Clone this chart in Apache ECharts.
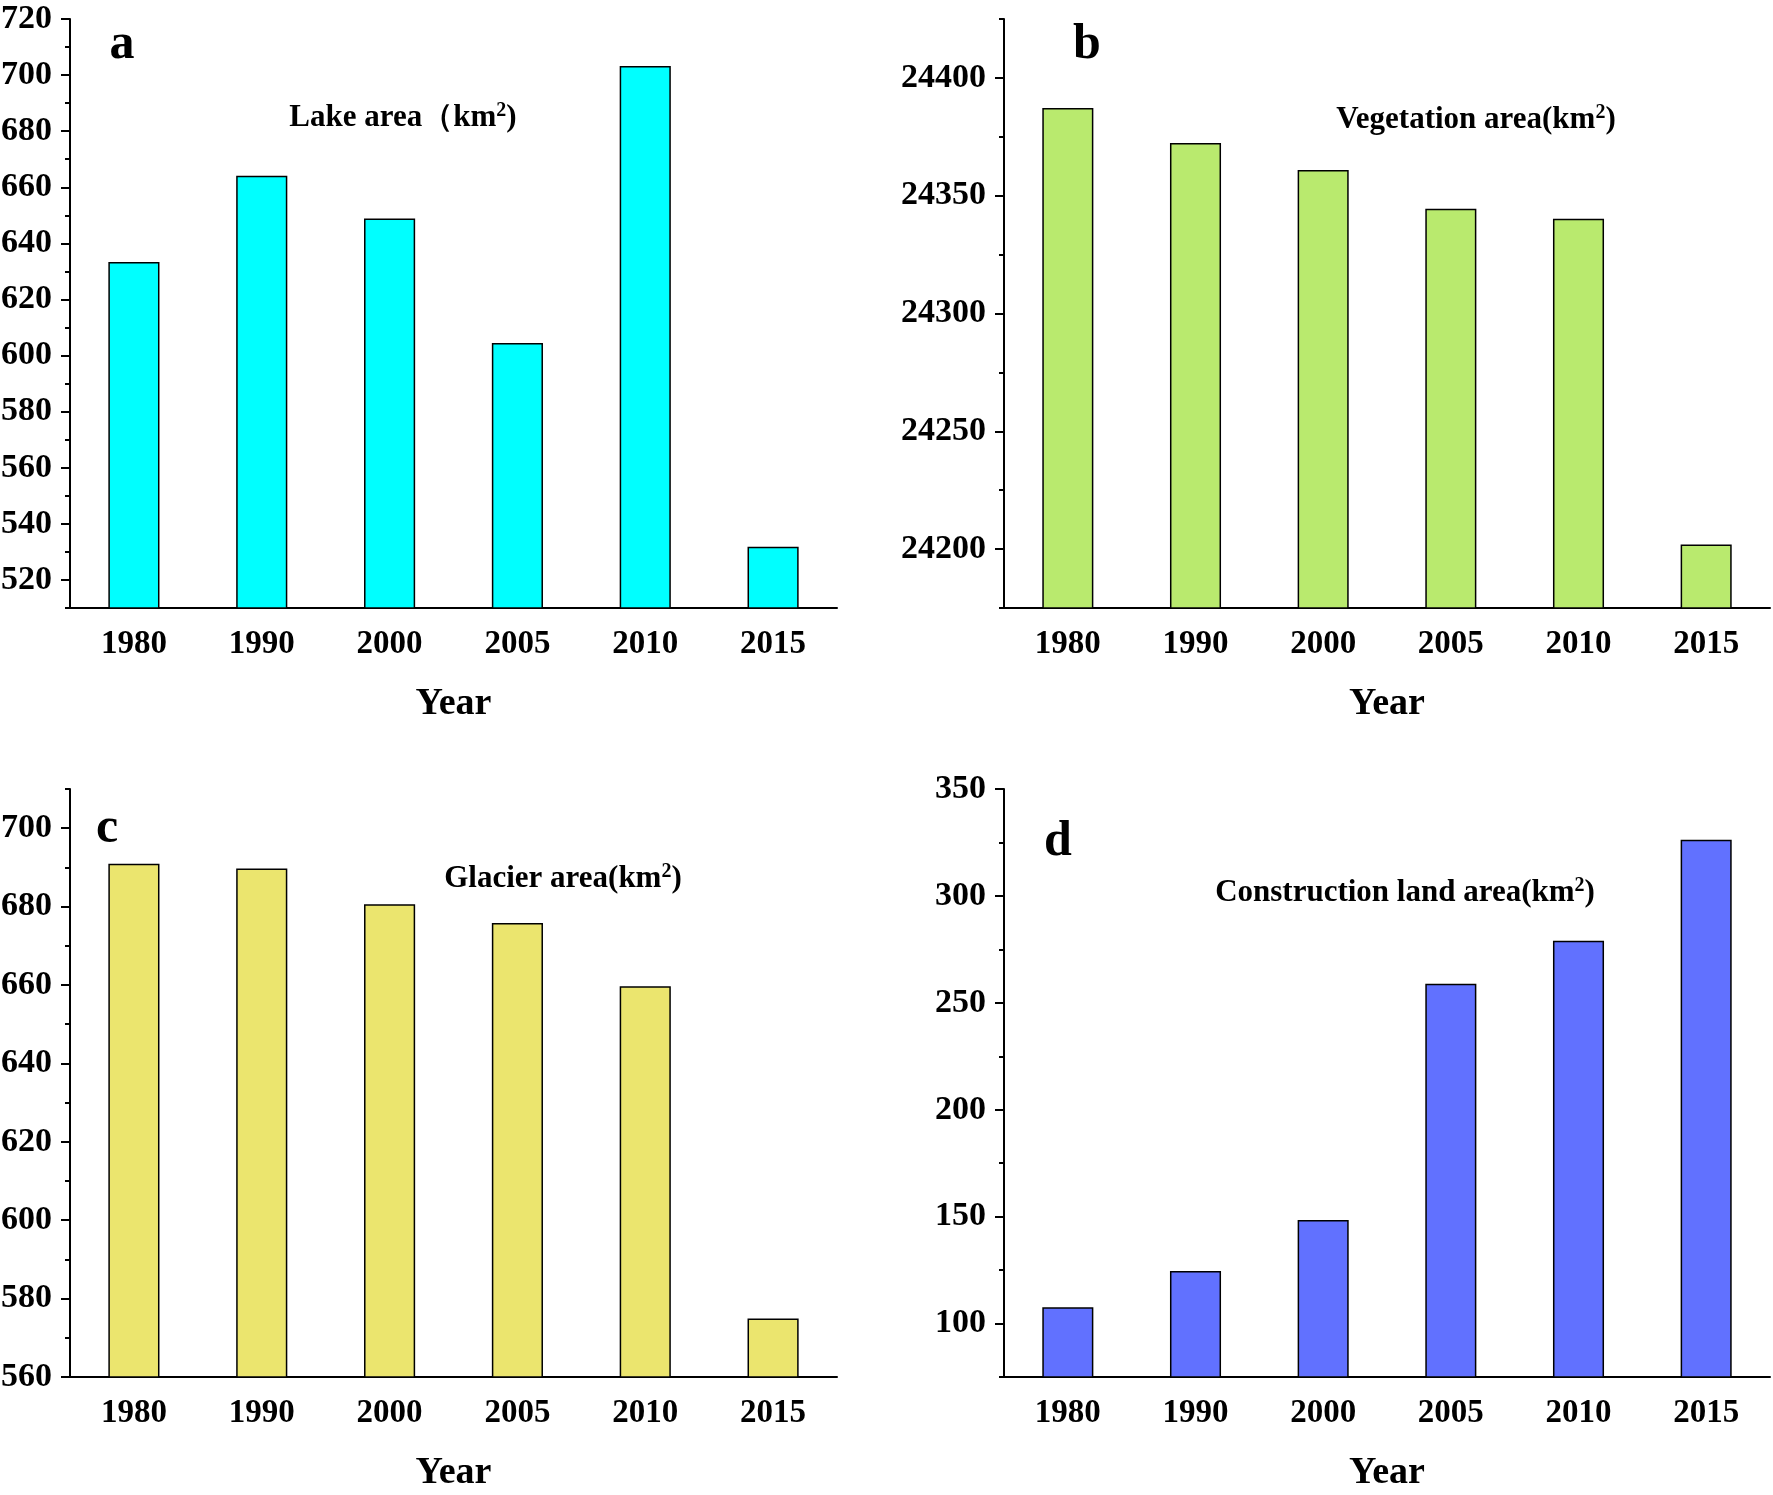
<!DOCTYPE html>
<html>
<head>
<meta charset="utf-8">
<script src="https://cdn.jsdelivr.net/npm/echarts@6/dist/echarts.min.js"></script>
<style>
  html, body { margin: 0; padding: 0; background: #fff; }
  #chart { width: 1773px; height: 1495px; }
</style>
</head>
<body>
<div id="chart"></div>
<script>
// data
const years = ['1980', '1990', '2000', '2005', '2010', '2015'];
const lakeArea = [633.4, 664.1, 648.9, 604.5, 703.2, 531.8];
const vegetationArea = [24387.2, 24372.4, 24360.9, 24344.5, 24340.2, 24202.0];
const glacierArea = [690.9, 689.7, 680.6, 675.8, 659.7, 574.9];
const constructionArea = [107.6, 124.6, 148.4, 258.9, 279.0, 326.3];

const lakeTicks = [520, 540, 560, 580, 600, 620, 640, 660, 680, 700, 720];
const vegetationTicks = [24200, 24250, 24300, 24350, 24400];
const glacierTicks = [560, 580, 600, 620, 640, 660, 680, 700];
const constructionTicks = [100, 150, 200, 250, 300, 350];

const FONT = '"Times New Roman", "Liberation Serif", serif';

const panels = [
    { letter: 'a', title: 'Lake area（km', values: lakeArea, ticks: lakeTicks, min: 510, max: 720, minor: 10, color: '#00FFFF',
      grid: { left: 70, top: 19, width: 767, height: 589 }, letterPos: [122, 45], titlePos: [403, 118] },
    { letter: 'b', title: 'Vegetation area(km', values: vegetationArea, ticks: vegetationTicks, min: 24175, max: 24425, minor: 25, color: '#B9EA6E',
      grid: { left: 1004, top: 19, width: 766, height: 589 }, letterPos: [1087, 45], titlePos: [1476, 120] },
    { letter: 'c', title: 'Glacier area(km', values: glacierArea, ticks: glacierTicks, min: 560, max: 710, minor: 10, color: '#EBE56E',
      grid: { left: 70, top: 789, width: 767, height: 588 }, letterPos: [107, 829], titlePos: [563, 879] },
    { letter: 'd', title: 'Construction land area(km', values: constructionArea, ticks: constructionTicks, min: 75, max: 350, minor: 25, color: '#6171FF',
      grid: { left: 1004, top: 789, width: 766, height: 588 }, letterPos: [1058, 842], titlePos: [1405, 893] },
];

const grid = [], xAxis = [], yAxis = [], series = [], graphic = [];
const lineStyle = { color: '#000', width: 2 };

panels.forEach((p, i) => {
    grid.push(Object.assign({ containLabel: false, outerBoundsMode: 'none' }, p.grid));
    // main category axis: long ticks under each year
    xAxis.push({
        type: 'category', gridIndex: i, data: years, boundaryGap: true, position: 'bottom',
        axisLine: { lineStyle: lineStyle },
        axisTick: { alignWithLabel: true, length: 11, lineStyle: lineStyle },
        axisLabel: { margin: 20, color: '#000', fontFamily: FONT, fontWeight: 'bold', fontSize: 33 },
        name: 'Year', nameLocation: 'middle', nameGap: 77,
        nameTextStyle: { color: '#000', fontFamily: FONT, fontWeight: 'bold', fontSize: 38 },
        splitLine: { show: false }
    });
    // overlay: short ticks between years
    xAxis.push({
        type: 'category', gridIndex: i, data: years, boundaryGap: true, position: 'bottom', offset: 0,
        axisLine: { show: false },
        axisTick: { length: 5, lineStyle: lineStyle },
        axisLabel: { show: false },
        splitLine: { show: false }
    });
    // value axis with minor ticks
    yAxis.push({
        type: 'value', gridIndex: i, min: p.min, max: p.max, interval: p.minor, position: 'left',
        axisLine: { show: true, lineStyle: lineStyle },
        axisTick: { show: true, length: 5, lineStyle: lineStyle },
        axisLabel: { show: false },
        splitLine: { show: false }
    });
    // overlay: labelled major ticks
    yAxis.push({
        type: 'value', gridIndex: i, min: p.min, max: p.max, position: 'left', offset: 0,
        axisLine: { show: false },
        axisTick: { show: true, length: 9, lineStyle: lineStyle, customValues: p.ticks },
        axisLabel: {
            margin: 18, color: '#000', fontFamily: FONT, fontWeight: 'bold', fontSize: 34,
            customValues: p.ticks, formatter: v => String(v)
        },
        splitLine: { show: false }
    });
    series.push({
        type: 'bar', xAxisIndex: 2 * i, yAxisIndex: 2 * i, data: p.values, barWidth: '40%',
        itemStyle: { color: p.color, borderColor: '#000', borderWidth: 1.5 },
        silent: true
    });
    graphic.push({
        type: 'text', x: p.letterPos[0], y: p.letterPos[1],
        style: { text: p.letter, fontFamily: FONT, fontWeight: 'bold', fontSize: 50, fill: '#000', align: 'center', verticalAlign: 'middle' }
    });
    graphic.push({
        type: 'text', x: p.titlePos[0], y: p.titlePos[1],
        style: {
            text: p.title + '{s|2})', fontFamily: FONT, fontWeight: 'bold', fontSize: 31, fill: '#000',
            align: 'center', verticalAlign: 'middle',
            rich: { s: { fontFamily: FONT, fontWeight: 'bold', fontSize: 20, padding: [0, 0, 14, 0] } }
        }
    });
});

const chart = echarts.init(document.getElementById('chart'));
chart.setOption({
    backgroundColor: '#fff',
    animation: false,
    grid: grid,
    xAxis: xAxis,
    yAxis: yAxis,
    series: series,
    graphic: graphic
});
</script>
</body>
</html>
